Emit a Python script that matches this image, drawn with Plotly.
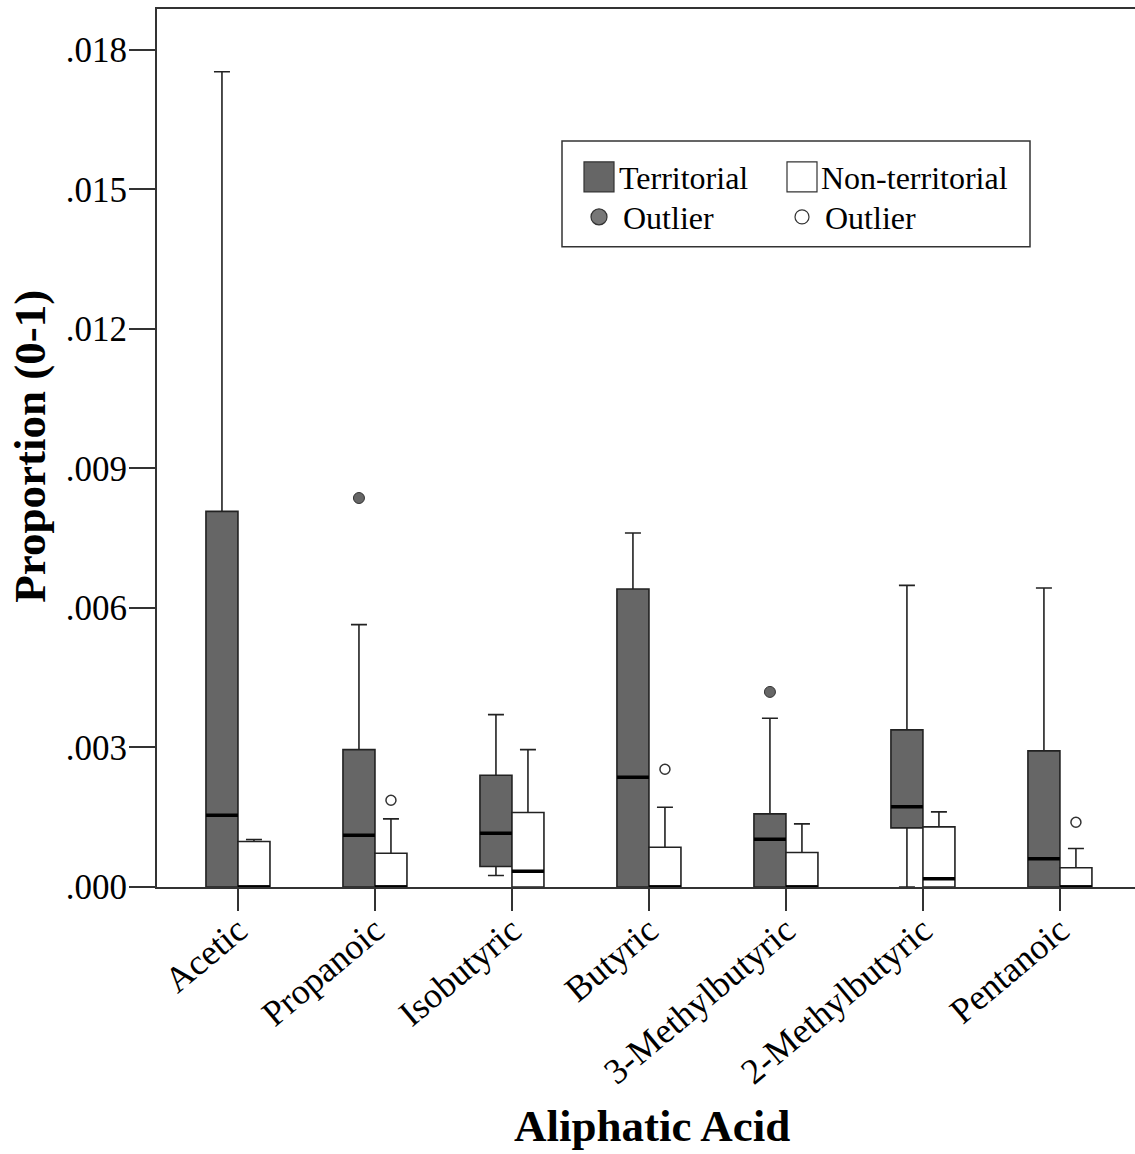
import plotly.graph_objects as go

# ---------------- data ----------------
categories = ["Acetic", "Propanoic", "Isobutyric", "Butyric",
              "3-Methylbutyric", "2-Methylbutyric", "Pentanoic"]

# Territorial
t_lower  = [0.0,      0.0,      0.000247, 0.0,      0.0,      0.0,      0.0]
t_q1     = [0.0,      0.0,      0.000441, 0.0,      0.0,      0.001272, 0.0]
t_median = [0.001543, 0.001113, 0.001157, 0.002360, 0.001027, 0.001724, 0.000606]
t_q3     = [0.008077, 0.002955, 0.002403, 0.006409, 0.001573, 0.003378, 0.002927]
t_upper  = [0.017533, 0.005642, 0.003707, 0.007613, 0.003628, 0.006486, 0.006430]
t_out_cat = ["Propanoic", "3-Methylbutyric"]
t_out_val = [0.008365, 0.004195]

# Non-territorial
n_lower  = [0.0,      0.0,      0.0,      0.0,      0.0,      0.0,      0.0]
n_q1     = [0.0,      0.0,      0.0,      0.0,      0.0,      0.0,      0.0]
n_median = [0.0,      0.0,      0.000340, 0.0,      0.0,      0.000176, 0.0]
n_q3     = [0.000978, 0.000727, 0.001601, 0.000855, 0.000741, 0.001294, 0.000413]
n_upper  = [0.001020, 0.001466, 0.002955, 0.001715, 0.001358, 0.001616, 0.000827]
n_out_cat = ["Propanoic", "Butyric", "Pentanoic"]
n_out_val = [0.001866, 0.002532, 0.001393]

y_tickvals = [0.0, 0.003, 0.006, 0.009, 0.012, 0.015, 0.018]
y_ticktext = [".000", ".003", ".006", ".009", ".012", ".015", ".018"]

# ---------------- layout helpers ----------------
W, H = 1135, 1154
L, R, T, B = 157, 0, 9, 266.5
PW, PH = W - L - R, H - T - B
FONT = "Liberation Serif"
BOXW = 0.2336
OFF = BOXW / 2
T_FILL = "#666666"
EDGE = "#222222"

def px(x):
    return (x - L) / PW

def py(y):
    return (H - B - y) / PH

idx = {c: i for i, c in enumerate(categories)}
pos_t = [i - OFF for i in range(len(categories))]
pos_n = [i + OFF for i in range(len(categories))]

fig = go.Figure()

fig.add_trace(go.Box(
    x=pos_t, q1=t_q1, median=t_median, q3=t_q3,
    lowerfence=t_lower, upperfence=t_upper,
    width=BOXW, whiskerwidth=0.5, fillcolor=T_FILL,
    line=dict(color=EDGE, width=1.6), boxpoints=False,
    name="Territorial", showlegend=False, hoverinfo="skip"))

fig.add_trace(go.Box(
    x=pos_n, q1=n_q1, median=n_median, q3=n_q3,
    lowerfence=n_lower, upperfence=n_upper,
    width=BOXW, whiskerwidth=0.5, fillcolor="white",
    line=dict(color=EDGE, width=1.6), boxpoints=False,
    name="Non-territorial", showlegend=False, hoverinfo="skip"))

# thick median lines
def median_segments(pos, med):
    xs, ys = [], []
    for p, m in zip(pos, med):
        xs += [p - OFF, p + OFF, None]
        ys += [m, m, None]
    return xs, ys

for pos, med in ((pos_t, t_median), (pos_n, n_median)):
    xs, ys = median_segments(pos, med)
    fig.add_trace(go.Scatter(x=xs, y=ys, mode="lines",
                             line=dict(color="black", width=3.5),
                             showlegend=False, hoverinfo="skip"))

# outliers
fig.add_trace(go.Scatter(
    x=[idx[c] - OFF for c in t_out_cat], y=t_out_val, mode="markers",
    marker=dict(size=11, color=T_FILL, line=dict(color="#333333", width=1)),
    showlegend=False, hoverinfo="skip", cliponaxis=False))
fig.add_trace(go.Scatter(
    x=[idx[c] + OFF for c in n_out_cat], y=n_out_val, mode="markers",
    marker=dict(size=10, color="white", line=dict(color="#333333", width=1.5)),
    showlegend=False, hoverinfo="skip", cliponaxis=False))

# ---------------- manual legend ----------------
shapes = [
    dict(type="rect", xref="paper", yref="paper",
         x0=px(562), x1=px(1030), y0=py(141), y1=py(247),
         line=dict(color="#333333", width=1.5), fillcolor="white", layer="below"),
    dict(type="rect", xref="paper", yref="paper",
         x0=px(584), x1=px(614), y0=py(162), y1=py(192),
         line=dict(color="#333333", width=1.2), fillcolor=T_FILL),
    dict(type="rect", xref="paper", yref="paper",
         x0=px(787), x1=px(817), y0=py(162), y1=py(192),
         line=dict(color="#333333", width=1.2), fillcolor="white"),
    dict(type="circle", xref="paper", yref="paper",
         x0=px(591), x1=px(607), y0=py(209), y1=py(225),
         line=dict(color="#333333", width=1.2), fillcolor="#777777"),
    dict(type="circle", xref="paper", yref="paper",
         x0=px(795), x1=px(809), y0=py(210), y1=py(224),
         line=dict(color="#333333", width=1.2), fillcolor="white"),
]

legend_font = dict(family=FONT, size=32, color="black")
annotations = [
    dict(text="Territorial", x=px(617), y=py(178), xref="paper", yref="paper",
         xanchor="left", yanchor="middle", showarrow=False, font=legend_font),
    dict(text="Non-territorial", x=px(819), y=py(178), xref="paper", yref="paper",
         xanchor="left", yanchor="middle", showarrow=False, font=legend_font),
    dict(text="Outlier", x=px(621), y=py(218), xref="paper", yref="paper",
         xanchor="left", yanchor="middle", showarrow=False, font=legend_font),
    dict(text="Outlier", x=px(823), y=py(218), xref="paper", yref="paper",
         xanchor="left", yanchor="middle", showarrow=False, font=legend_font),
    # axis titles
    dict(text="<b>Proportion (0-1)</b>", x=px(30), y=py(447), xref="paper", yref="paper",
         xanchor="center", yanchor="middle", textangle=-90, showarrow=False,
         font=dict(family=FONT, size=45, color="black")),
    dict(text="<b>Aliphatic Acid</b>", x=px(652), y=py(1127), xref="paper", yref="paper",
         xanchor="center", yanchor="middle", showarrow=False,
         font=dict(family=FONT, size=45, color="black")),
]

fig.update_layout(
    width=W, height=H,
    margin=dict(l=L, r=R, t=T, b=B, pad=0),
    paper_bgcolor="white", plot_bgcolor="white",
    boxmode="overlay", showlegend=False,
    shapes=shapes, annotations=annotations,
    font=dict(family=FONT, color="black"),
)

fig.update_xaxes(
    range=[-0.591, 6.548], tickvals=list(range(len(categories))),
    ticktext=categories, tickangle=-40,
    tickfont=dict(family=FONT, size=36, color="black"),
    ticklabelstandoff=-16,
    showline=True, linecolor="#333333", linewidth=2, mirror=True,
    ticks="outside", ticklen=22, tickwidth=1.5, tickcolor="#333333",
    showgrid=False, zeroline=False,
)
fig.update_yaxes(
    range=[0, 0.018881], tickvals=y_tickvals, ticktext=y_ticktext,
    tickfont=dict(family=FONT, size=35, color="black"),
    ticklabelstandoff=-5,
    showline=True, linecolor="#333333", linewidth=2,
    ticks="outside", ticklen=26, tickwidth=1.5, tickcolor="#333333",
    showgrid=False, zeroline=False,
)

fig.write_html("out.html",
               config={"displayModeBar": False},
               post_script="document.body.style.margin='0';document.body.style.overflow='hidden';")
